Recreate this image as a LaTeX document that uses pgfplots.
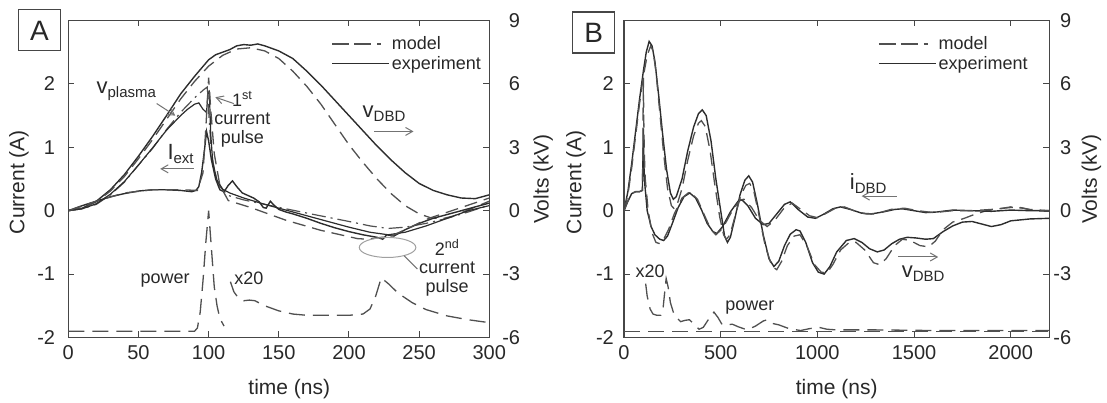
\documentclass[border=0pt]{standalone}
\usepackage{fontspec}
\setmainfont{Liberation Sans}
\usepackage{pgfplots}
\pgfplotsset{compat=1.18}
\usetikzlibrary{arrows.meta}

\definecolor{expc}{RGB}{45,45,45}
\definecolor{modc}{RGB}{80,80,80}
\definecolor{annc}{RGB}{115,115,115}
\definecolor{ellc}{RGB}{160,160,160}
\definecolor{axc}{RGB}{70,70,70}
\definecolor{txtc}{RGB}{40,40,40}

% big letter with lowered small subscript
\newcommand{\sv}[2]{{\fontsize{22}{24}\selectfont #1}{\fontsize{15}{16}\selectfont\raisebox{-4pt}{#2}}}

\tikzset{
  exp/.style={expc, line width=1.4pt},
  mod/.style={modc, line width=1.3pt, dash pattern=on 13pt off 7pt},
  moddot/.style={modc, line width=1.2pt, dash pattern=on 14pt off 5pt on 2pt off 5pt},
  pow/.style={modc, line width=1.3pt, dash pattern=on 16pt off 8pt},
  ann/.style={font=\fontsize{18}{18.5}\selectfont, text=txtc},
  arr/.style={annc, line width=1pt, -{Straight Barb[length=7pt,width=8pt]}},
}

\pgfplotsset{
  base/.style={
    scale only axis, anchor=south west,
    ymin=-2, ymax=3,
    axis line style={line width=1.2pt, draw=axc},
    tick style={line width=1pt, draw=axc},
    major tick length=6pt, tick align=inside,
    tick label style={font=\fontsize{20}{24}\selectfont, text=txtc},
    /pgf/number format/assume math mode=true,
    /pgf/number format/1000 sep={},
    label style={font=\fontsize{21}{25}\selectfont, text=txtc},
  },
  leg/.style={
    legend style={anchor=north west, draw=none, fill=none,
      font=\fontsize{18}{20}\selectfont, text=txtc, row sep=1pt},
    legend cell align=left,
    legend image code/.code={\draw[##1] (0pt,0pt) -- (57pt,0pt);},
  },
}

\begin{document}
\begin{tikzpicture}
\path[use as bounding box] (0pt,0pt) rectangle (1107pt,403pt);

% ---------------- panel A : voltages (right axis) ----------------
\begin{axis}[base, at={(68.3pt,65.5pt)}, width=421pt, height=317pt,
  xmin=0, xmax=300, ymin=-6, ymax=9,
  axis x line=none, axis y line*=right,
  ytick={-6,-3,0,3,6,9},
  yticklabel style={anchor=east, inner sep=0pt, xshift=31pt},
  ylabel={Volts (kV)},
  ylabel style={at={(axis description cs:1.128,0.5)}, anchor=center}]
% v_DBD experiment
\addplot[exp] coordinates {
(0,0) (10,0.12) (20,0.45) (30,0.99) (40,1.71) (50,2.58) (60,3.51) (70,4.5)
(80,5.52) (90,6.36) (100,7.14) (105,7.38) (110,7.5) (115,7.62) (120,7.8)
(125,7.86) (130,7.83) (135,7.89) (140,7.8) (150,7.56) (160,7.2) (170,6.6)
(180,5.94) (190,5.22) (200,4.5) (210,3.78) (220,3.06) (230,2.4) (240,1.8)
(250,1.29) (260,0.96) (270,0.75) (280,0.6) (290,0.57) (300,0.75)};
% v_DBD model
\addplot[mod] coordinates {
(0,0) (10,0.12) (20,0.42) (30,0.93) (40,1.62) (50,2.46) (60,3.36) (70,4.32)
(80,5.28) (90,6.12) (100,6.84) (110,7.35) (120,7.65) (130,7.71) (140,7.56)
(150,7.2) (160,6.6) (170,5.88) (180,5.04) (190,4.08) (200,3.12) (210,2.28)
(220,1.5) (230,0.81) (240,0.24) (250,-0.15) (258,-0.33) (266,-0.39)
(275,-0.24) (288,0.12) (300,0.45)};
% v_plasma model
\addplot[moddot] coordinates {
(0,0) (10,0.09) (20,0.3) (30,0.75) (40,1.35) (50,2.16) (60,2.94) (70,3.84)
(80,4.65) (90,5.34) (96,5.7) (99,5.85) (100.5,4.2) (102,2.7) (105,1.65)
(108,1.14) (114,0.72) (125,0.51) (140,0.3) (155,0.09) (175,-0.18) (200,-0.51)
(215,-0.72) (228,-0.84) (240,-0.78) (255,-0.6) (270,-0.36) (285,-0.06) (300,0.27)};
% v_plasma experiment
\addplot[exp, line width=1.2pt] coordinates {
(0,0) (10,0.09) (20,0.33) (30,0.78) (40,1.38) (50,2.16) (60,2.97) (70,3.81)
(80,4.5) (85,4.8) (90,5.04) (93,5.1) (96,4.8) (98.5,4.65) (99.5,5.55)
(100.5,5.64) (101.5,3.6) (103,2.25) (106,1.44) (110,1.02) (115,0.84)
(125,0.6) (140,0.3) (160,-0.06) (180,-0.42) (200,-0.78) (215,-1.02)
(228,-1.14) (240,-1.02) (255,-0.72) (270,-0.36) (285,0) (300,0.24)};
\end{axis}

% ---------------- panel A : currents (left axis) ----------------
\begin{axis}[base, leg, at={(68.3pt,65.5pt)}, width=421pt, height=317pt,
  xmin=0, xmax=300, xtick={0,50,...,300}, ytick={-2,-1,0,1,2},
  xtick pos=both, ytick pos=left,
  xticklabel style={anchor=north, inner sep=0pt, yshift=-8pt},
  yticklabel style={anchor=east, inner sep=0pt, xshift=-13pt},
  xlabel={time (ns)}, ylabel={Current (A)},
  xlabel style={at={(axis description cs:0.525,-0.162)}, anchor=center},
  ylabel style={at={(axis description cs:-0.117,0.49)}, anchor=center},
  legend style={at={(axis description cs:0.6176,0.962)}}]
\addlegendimage{modc, line width=1.3pt, dash pattern=on 17pt off 5pt on 17pt off 6pt on 4pt off 20pt}
\addlegendentry{model}
\addlegendimage{expc, line width=1.4pt}
\addlegendentry{experiment}
% I_ext experiment
\addplot[exp, forget plot] coordinates {
(0,0) (10,0.08) (20,0.15) (30,0.22) (40,0.27) (50,0.31) (60,0.33) (70,0.33)
(80,0.32) (88,0.3) (91,0.32) (93,0.38) (95,0.6) (97,0.95) (98.5,1.25)
(100,1.1) (102,0.8) (105,0.5) (108,0.33) (111,0.3) (114,0.4) (117,0.47)
(120,0.38) (124,0.28) (128,0.24) (132,0.2) (136,0.14) (139,0.05) (141,0.04)
(144,0.15) (146,0.1) (150,0.02) (155,-0.02) (160,-0.05) (170,-0.12)
(180,-0.2) (190,-0.27) (200,-0.33) (210,-0.38) (220,-0.42) (224,-0.45)
(227,-0.38) (232,-0.4) (240,-0.3) (250,-0.2) (260,-0.12) (270,-0.06)
(280,0) (290,0.06) (300,0.12)};
% I_ext model
\addplot[mod, forget plot] coordinates {
(0,0) (20,0.15) (40,0.28) (60,0.33) (80,0.33) (92,0.32) (96,0.6) (98,1.3)
(100,2.1) (101.5,1.6) (104,0.9) (108,0.4) (114,0.16) (130,0.05) (155,-0.15)
(180,-0.31) (206,-0.44) (213,-0.45) (230,-0.4) (240,-0.3) (257,-0.12)
(280,0.05) (300,0.2)};
% power
\addplot[pow, forget plot] coordinates {
(0,-1.9) (90,-1.9) (92,-1.85) (94,-1.6) (96,-1.1) (98,-0.5) (100,0)
(102,-0.6) (104,-1.2) (106,-1.5) (108,-1.7) (111,-1.82)};
% power x20
\addplot[pow, forget plot] coordinates {
(115.5,-1.12) (118,-1.28) (121,-1.37) (125,-1.42) (129,-1.41) (133,-1.42)
(140,-1.5) (150,-1.58) (160,-1.63) (170,-1.65) (200,-1.65) (210,-1.63)
(215,-1.55) (219,-1.35) (223,-1.06) (228,-1.15) (235,-1.3) (245,-1.45)
(255,-1.56) (270,-1.66) (285,-1.72) (298,-1.76)};
% annotations
\node[ann] at (axis cs:69,-1.1) {power};
\node[ann] at (axis cs:128.6,-1.06) {x20};
\node[ann] at (axis cs:41.3,1.88) {\sv{v}{plasma}};
\draw[arr] (axis cs:63,1.69) -- (axis cs:76.2,1.5);
\node[ann] at (axis cs:80,0.9) {\sv{I}{ext}};
\draw[arr] (axis cs:89.3,0.66) -- (axis cs:65.5,0.66);
\node[ann, align=center] at (axis cs:124,1.44) {1\textsuperscript{st}\\current\\pulse};
\draw[arr] (axis cs:117.9,1.69) -- (axis cs:104.8,1.79);
\node[ann] at (axis cs:225,1.53) {\sv{v}{DBD}};
\draw[arr] (axis cs:218,1.25) -- (axis cs:246,1.25);
\draw[ellc, line width=1pt] (axis cs:227.5,-0.58) ellipse [x radius=28.3pt, y radius=10pt];
\draw[annc, line width=1pt] (axis cs:239.3,-0.71) -- (axis cs:248.8,-0.92);
\node[ann, align=center] at (axis cs:270,-0.9) {2\textsuperscript{nd}\\current\\pulse};
\end{axis}

% ---------------- panel B : voltages (right axis) ----------------
\begin{axis}[base, at={(624pt,65.5pt)}, width=425.4pt, height=317pt,
  xmin=0, xmax=2200, ymin=-6, ymax=9,
  axis x line=none, axis y line*=right,
  ytick={-6,-3,0,3,6,9},
  yticklabel style={anchor=east, inner sep=0pt, xshift=22pt},
  ylabel={Volts (kV)},
  ylabel style={at={(axis description cs:1.099,0.5)}, anchor=center}]
% v_DBD experiment
\addplot[exp] coordinates {
(0,0) (20,0.9) (40,2.25) (60,3.75) (80,5.25) (100,6.6) (115,7.5) (130,8.01)
(145,7.8) (160,7.05) (180,5.4) (200,3.6) (220,1.95) (240,0.84) (255,0.54)
(270,0.66) (300,1.5) (330,2.85) (360,3.96) (385,4.59) (405,4.77) (425,4.5)
(450,3.3) (475,1.5) (500,0) (520,-1.2) (535,-1.5) (550,-1.26) (575,-0.3)
(600,0.75) (625,1.44) (645,1.65) (665,1.35) (690,0.3) (720,-1.14)
(750,-2.28) (775,-2.64) (800,-2.4) (830,-1.65) (860,-1.11) (890,-0.9)
(910,-0.96) (940,-1.5) (975,-2.46) (1005,-2.91) (1035,-3.0) (1065,-2.64)
(1100,-1.95) (1150,-1.41) (1190,-1.32) (1230,-1.5) (1270,-1.8) (1310,-1.95)
(1345,-1.86) (1385,-1.56) (1425,-1.35) (1465,-1.26) (1510,-1.29)
(1560,-1.35) (1600,-1.32) (1650,-0.99) (1700,-0.72) (1750,-0.54)
(1800,-0.51) (1850,-0.63) (1900,-0.75) (1950,-0.66) (2000,-0.48)
(2100,-0.39) (2200,-0.36)};
% v_DBD model
\addplot[mod] coordinates {
(0,0) (20,0.75) (40,2.04) (60,3.54) (80,5.04) (100,6.36) (120,7.35)
(138,7.8) (150,7.56) (165,6.6) (185,4.65) (205,2.7) (225,1.05) (245,0.24)
(260,0.09) (275,0.3) (300,1.05) (330,2.4) (360,3.54) (385,4.14) (400,4.26)
(420,3.99) (445,2.85) (470,1.2) (495,-0.3) (515,-1.14) (530,-1.35)
(548,-1.14) (575,-0.24) (605,0.75) (630,1.2) (650,1.29) (672,0.9) (700,-0.3)
(730,-1.65) (765,-2.64) (790,-2.79) (815,-2.4) (845,-1.65) (880,-1.2)
(910,-1.14) (945,-1.65) (985,-2.55) (1020,-2.91) (1050,-2.94) (1080,-2.55)
(1120,-1.86) (1165,-1.5) (1200,-1.5) (1245,-1.86) (1290,-2.46) (1320,-2.55)
(1355,-2.28) (1400,-1.65) (1440,-1.35) (1480,-1.41) (1530,-1.65)
(1575,-1.71) (1610,-1.44) (1650,-0.9) (1700,-0.54) (1760,-0.36)
(1820,-0.15) (1875,0) (1940,0.09) (2000,0.18) (2060,0.12) (2120,0)
(2200,-0.03)};
\end{axis}

% ---------------- panel B : currents (left axis) ----------------
\begin{axis}[base, leg, at={(624pt,65.5pt)}, width=425.4pt, height=317pt,
  xmin=0, xmax=2200, xtick={0,500,...,2000}, ytick={-2,-1,0,1,2},
  xtick pos=both, ytick pos=left,
  xticklabel style={anchor=north, inner sep=0pt, yshift=-8pt},
  yticklabel style={anchor=east, inner sep=0pt, xshift=-10pt},
  xlabel={time (ns)}, ylabel={Current (A)},
  xlabel style={at={(axis description cs:0.5,-0.162)}, anchor=center},
  ylabel style={at={(axis description cs:-0.113,0.49)}, anchor=center},
  legend style={at={(axis description cs:0.59,0.962)}}]
\addlegendimage{modc, line width=1.3pt, dash pattern=on 17pt off 5pt on 17pt off 6pt on 4pt off 20pt}
\addlegendentry{model}
\addlegendimage{expc, line width=1.4pt}
\addlegendentry{experiment}
% i_DBD experiment
\addplot[exp, forget plot] coordinates {
(0,0) (20,0.15) (40,0.27) (60,0.3) (80,0.3) (95,0.32) (98,0.8) (100,1.3)
(103,0.7) (108,0.4) (120,0) (140,-0.25) (160,-0.38) (185,-0.45) (205,-0.47)
(225,-0.4) (250,-0.2) (280,0.05) (310,0.22) (340,0.28) (370,0.2) (400,0.02)
(430,-0.2) (460,-0.33) (480,-0.36) (510,-0.25) (550,-0.02) (590,0.15)
(610,0.17) (640,0.08) (680,-0.12) (720,-0.22) (750,-0.2) (790,-0.05)
(830,0.1) (860,0.14) (900,0.02) (950,-0.1) (990,-0.12) (1030,-0.06)
(1080,0.03) (1120,0.06) (1170,0.02) (1230,-0.04) (1280,-0.05) (1340,-0.02)
(1400,0.02) (1440,0.03) (1500,0) (1560,-0.03) (1620,-0.02) (1700,0.01)
(1800,0) (1900,-0.01) (2000,0.01) (2100,0) (2200,0)};
% i_DBD model
\addplot[mod, forget plot] coordinates {
(0,0) (20,0.15) (40,0.27) (60,0.3) (80,0.3) (95,0.32) (97,0.8) (100,2.1)
(102,1.5) (105,0.9) (110,0.5) (125,0) (145,-0.35) (165,-0.5) (185,-0.52)
(205,-0.45) (230,-0.3) (260,-0.05) (300,0.2) (340,0.3) (380,0.18) (420,-0.1)
(450,-0.3) (475,-0.38) (510,-0.28) (560,0) (600,0.17) (620,0.18) (660,0.05)
(700,-0.15) (740,-0.25) (780,-0.15) (830,0.05) (870,0.12) (910,0.03)
(960,-0.08) (1000,-0.11) (1040,-0.05) (1100,0.05) (1140,0.06) (1190,0)
(1250,-0.05) (1300,-0.05) (1380,0.02) (1450,0.04) (1520,0) (1600,-0.03)
(1700,0) (1800,0) (1900,0.02) (2000,0.05) (2050,0.05) (2100,0.02) (2200,0)};
% power baseline
\addplot[pow, forget plot] coordinates {(0,-1.9) (2200,-1.9)};
% power x20
\addplot[pow, forget plot] coordinates {
(112,-1.15) (120,-1.35) (135,-1.55) (150,-1.63) (170,-1.65) (190,-1.65)
(200,-1.6) (210,-1.3) (218,-1.07) (228,-1.2) (240,-1.45) (255,-1.6)
(270,-1.68) (293,-1.75) (315,-1.73) (338,-1.72) (360,-1.78) (388,-1.87)
(410,-1.84) (440,-1.7) (465,-1.6) (485,-1.68) (508,-1.8) (535,-1.8)
(560,-1.79) (590,-1.83) (637,-1.88) (680,-1.82) (720,-1.74) (741,-1.72)
(770,-1.78) (800,-1.8) (853,-1.86) (913,-1.89) (960,-1.86) (1008,-1.84)
(1050,-1.87) (1100,-1.88) (1300,-1.88) (1600,-1.89) (2200,-1.89)};
% annotations
\node[ann] at (axis cs:135,-0.95) {x20};
\node[ann] at (axis cs:651,-1.52) {power};
\node[ann] at (axis cs:1263,0.43) {\sv{i}{DBD}};
\draw[arr] (axis cs:1410,0.23) -- (axis cs:1229,0.23);
\node[ann] at (axis cs:1547,-0.99) {\sv{v}{DBD}};
\draw[arr] (axis cs:1418,-0.73) -- (axis cs:1625,-0.73);
\end{axis}

% panel letters
\node[draw=axc, line width=1.2pt, minimum width=42pt, minimum height=41pt,
  inner sep=0pt, font=\fontsize{28}{30}\selectfont, text=txtc] at (39.5pt,372.6pt) {A};
\node[draw=axc, line width=1.2pt, minimum width=42pt, minimum height=41pt,
  inner sep=0pt, font=\fontsize{28}{30}\selectfont, text=txtc] at (593.8pt,370.5pt) {B};
\end{tikzpicture}
\end{document}
